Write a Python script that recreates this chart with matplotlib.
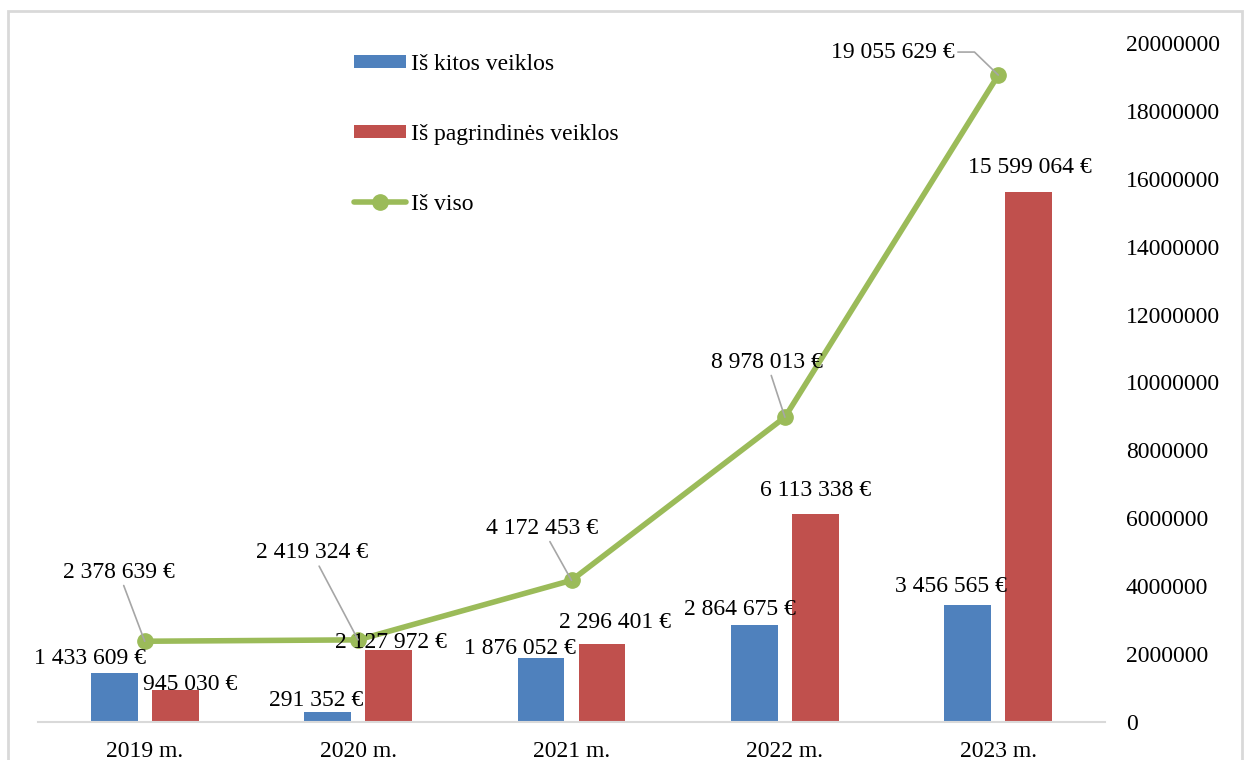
import matplotlib
matplotlib.use("Agg")
import matplotlib.pyplot as plt
import numpy as np
from matplotlib.patches import Rectangle
from matplotlib.ticker import MultipleLocator, FuncFormatter

years = ["2019 m.", "2020 m.", "2021 m.", "2022 m.", "2023 m."]
kitos = [1433609, 291352, 1876052, 2864675, 3456565]
pagrindines = [945030, 2127972, 2296401, 6113338, 15599064]
is_viso = [2378639, 2419324, 4172453, 8978013, 19055629]

BLUE = "#4F81BD"
RED = "#C0504D"
GREEN = "#9BBB59"
GRAY = "#D9D9D9"
LEADER = "#A6A6A6"

# label offsets in pixels (dx, dy) from bar top / line point
kitos_off = [(-24, 15), (-11, 12), (-21, 10), (-14, 15), (-17, 18)]
pagr_off = [(15, 5), (2, 7), (13, 22), (0, 24), (1, 25)]
viso_off = [(-26, 69), (-46, 87), (-29, 52), (-18, 55), (-105, 23)]

plt.rcParams["font.family"] = ["Liberation Serif", "DejaVu Serif"]
FS = 17


def fmt(v):
    return f"{v:,}".replace(",", " ") + " €"


W, H = 1245, 760
fig = plt.figure(figsize=(W / 100, H / 100), dpi=100)
ax = fig.add_axes([38 / W, (H - 722) / H, (1105 - 38) / W, (722 - 43) / H])

x = np.arange(len(years))
bw = 0.22
off = 0.143
b1 = ax.bar(x - off, kitos, bw, color=BLUE, label="Iš kitos veiklos", zorder=2)
b2 = ax.bar(x + off, pagrindines, bw, color=RED, label="Iš pagrindinės veiklos", zorder=2)
ln, = ax.plot(x, is_viso, color=GREEN, lw=4, marker="o", ms=11,
              label="Iš viso", zorder=3, solid_capstyle="round")

ax.set_xlim(-0.5, len(years) - 0.5)
ax.set_ylim(0, 20000000)

for s in ("left", "right", "top"):
    ax.spines[s].set_visible(False)
ax.spines["bottom"].set_color(GRAY)
ax.spines["bottom"].set_linewidth(1.5)

ax.yaxis.tick_right()
ax.yaxis.set_major_locator(MultipleLocator(2000000))
ax.yaxis.set_major_formatter(FuncFormatter(lambda v, p: f"{int(v)}"))
ax.tick_params(axis="y", length=0, pad=15, labelsize=FS)
ax.set_xticks(x)
ax.set_xticklabels(years)
ax.tick_params(axis="x", length=0, pad=14, labelsize=FS)

for i in range(len(years)):
    dx, dy = kitos_off[i]
    ax.annotate(fmt(kitos[i]), xy=(x[i] - off, kitos[i]), xytext=(dx, dy),
                textcoords="offset pixels", ha="center", va="center",
                fontsize=FS, zorder=4)
    dx, dy = pagr_off[i]
    ax.annotate(fmt(pagrindines[i]), xy=(x[i] + off, pagrindines[i]), xytext=(dx, dy),
                textcoords="offset pixels", ha="center", va="center",
                fontsize=FS, zorder=4)

for i in range(len(years)):
    dx, dy = viso_off[i]
    if i == len(years) - 1:
        arrow = dict(arrowstyle="-", color=LEADER, lw=1.2, shrinkA=0, shrinkB=0,
                     relpos=(1, 0.5),
                     connectionstyle="angle,angleA=0,angleB=136,rad=0")
    else:
        arrow = dict(arrowstyle="-", color=LEADER, lw=1.2, shrinkA=0, shrinkB=0)
    ax.annotate(fmt(is_viso[i]), xy=(x[i], is_viso[i]), xytext=(dx, dy),
                textcoords="offset pixels", ha="center", va="center",
                fontsize=FS, arrowprops=arrow, zorder=5, annotation_clip=False)

leg = ax.legend(handles=[b1, b2, ln], loc="upper left",
                bbox_to_anchor=(354 / W, 1 - 54 / H), bbox_transform=fig.transFigure,
                frameon=False, fontsize=FS, borderpad=0, borderaxespad=0,
                handlelength=2.2, handleheight=0.5, handletextpad=0.2,
                labelspacing=2.07)

fig.patches.append(Rectangle((8 / W, -0.05), (1242 - 8) / W, 1 - 11 / H + 0.05,
                             transform=fig.transFigure, fill=False,
                             edgecolor=GRAY, lw=2))

fig.savefig("out.png", dpi=100)
